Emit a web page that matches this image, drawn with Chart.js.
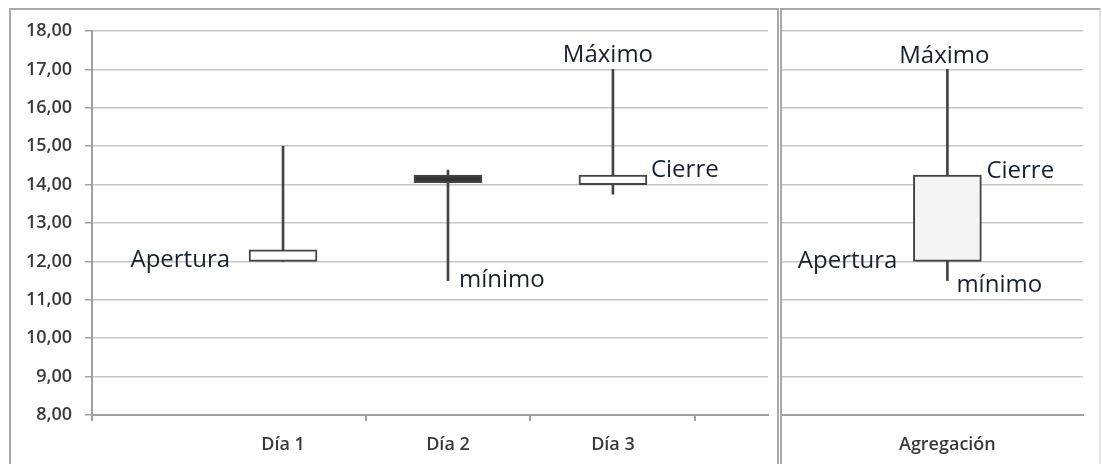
<!DOCTYPE html>
<html lang="es">
<head>
<meta charset="utf-8">
<title>Velas: Día 1 – Día 3 y Agregación</title>
<script src="https://cdn.jsdelivr.net/npm/chart.js@4.4.1/dist/chart.umd.min.js"></script>
<style>
  html, body { margin: 0; padding: 0; background: #ffffff; }
  body { width: 1102px; height: 464px; position: relative; overflow: hidden; }
  canvas { position: absolute; top: 0; }
  #dias { left: 0; }
  #agregado { left: 782px; }
  .frame { position: absolute; top: 8px; height: 470px; box-sizing: border-box;
           border-top: 2px solid #a9a9a9; border-left: 2px solid #a9a9a9; border-right: 2px solid #a9a9a9;
           pointer-events: none; }
  #frameLeft { left: 9px; width: 770px; }
  #frameRight { left: 780px; width: 321px; border-right-color: #e4e4e4; }
</style>
</head>
<body>
<canvas id="dias" width="777" height="464"></canvas>
<canvas id="agregado" width="320" height="464"></canvas>
<div class="frame" id="frameLeft"></div>
<div class="frame" id="frameRight"></div>
<script>
// Daily candles
const categories = ['Día 1', 'Día 2', 'Día 3'];
const openValues  = [12.00, 14.25, 14.00];
const highValues  = [15.00, 14.38, 17.00];
const lowValues   = [12.00, 11.50, 13.75];
const closeValues = [12.30, 14.05, 14.25];

// Aggregated candle over the three days
const aggCategories = ['Agregación'];
const aggOpen  = [12.00];
const aggHigh  = [17.00];
const aggLow   = [11.50];
const aggClose = [14.25];

// Value axis
const yTickValues = [8, 9, 10, 11, 12, 13, 14, 15, 16, 17, 18];

const INK = '#3a3a3a';
const GRID = '#c6c6c6';
const AXIS = '#a0a0a0';
const NOTE_FONT = '400 24px "Open Sans"';
const NOTE_COLOR = '#18222e';
const BOX_W = 68;

function formatComma(v) { return v.toFixed(2).replace('.', ','); }

function candleDatasets(labels, open, high, low, close, risingFill, fallingFill) {
  const pos = labels.map((_, i) => i + 1);
  return [
    {
      label: 'mecha',
      data: pos.map((x, i) => ({ x: x, y: [low[i], high[i]] })),
      backgroundColor: '#444444',
      borderWidth: 0,
      barThickness: 2,
      grouped: false,
      order: 2
    },
    {
      label: 'cuerpo',
      data: pos.map((x, i) => ({ x: x, y: [open[i], close[i]] })),
      backgroundColor: pos.map((_, i) => close[i] >= open[i] ? risingFill : fallingFill),
      borderColor: '#444444',
      borderWidth: 2,
      borderSkipped: false,
      barThickness: BOX_W,
      grouped: false,
      order: 1
    }
  ];
}

// Text callouts tied to a candle value (anchor: 'left' | 'center' | 'right' of the body)
function notesPlugin(notes, series) {
  return {
    id: 'notes',
    afterDatasetsDraw(chart) {
      const { ctx, scales } = chart;
      ctx.save();
      ctx.font = NOTE_FONT;
      ctx.fillStyle = NOTE_COLOR;
      ctx.textBaseline = 'alphabetic';
      notes.forEach(n => {
        const cx = scales.x.getPixelForValue(n.index + 1);
        const ax = n.anchor === 'left' ? cx - BOX_W / 2 : n.anchor === 'right' ? cx + BOX_W / 2 : cx;
        const y = scales.y.getPixelForValue(series[n.field][n.index]);
        ctx.textAlign = n.align;
        ctx.fillText(n.text, ax + n.dx, y + n.dy);
      });
      ctx.restore();
    }
  };
}

function baseOptions(opts) {
  return {
    responsive: false,
    animation: false,
    events: [],
    layout: { padding: opts.padding },
    plugins: { legend: { display: false }, tooltip: { enabled: false } },
    scales: {
      x: {
        type: 'linear',
        offset: false,
        min: opts.xMin,
        max: opts.xMax,
        afterBuildTicks(scale) { scale.ticks = opts.xTicks.map(v => ({ value: v })); },
        afterFit(scale) { scale.height = 49; },
        ticks: {
          autoSkip: false,
          maxRotation: 0,
          padding: 13,
          color: INK,
          font: { family: '"Open Sans"', size: 18, weight: '600' },
          callback(v) { return Number.isInteger(v) ? opts.labels[v - 1] || '' : ''; }
        },
        grid: {
          offset: false,
          drawOnChartArea: false,
          tickLength: 6,
          lineWidth: 2,
          tickColor(c) {
            const t = c && c.tick;
            return opts.showXTicks && t && !Number.isInteger(t.value) ? AXIS : 'rgba(0,0,0,0)';
          }
        },
        border: { display: true, color: AXIS, width: 2 }
      },
      y: {
        min: 8,
        max: 18,
        afterBuildTicks(scale) { scale.ticks = yTickValues.map(v => ({ value: v })); },
        afterFit(scale) { scale.width = opts.yWidth; },
        ticks: {
          display: opts.showYLabels,
          padding: 13,
          color: INK,
          font: { family: '"Open Sans"', size: 18, weight: '600' },
          callback(v) { return formatComma(v); }
        },
        grid: {
          color: GRID,
          lineWidth: 1.5,
          drawTicks: opts.showYLabels,
          tickLength: 7,
          tickColor: AXIS
        },
        border: { display: opts.showYLabels, color: AXIS, width: 2 }
      }
    }
  };
}

const daySeries = { open: openValues, high: highValues, low: lowValues, close: closeValues };
new Chart(document.getElementById('dias'), {
  type: 'bar',
  data: { datasets: candleDatasets(categories, openValues, highValues, lowValues, closeValues, '#ffffff', '#333333') },
  options: baseOptions({
    padding: { top: 31, right: 9, bottom: 0, left: 0 },
    xMin: -0.158, xMax: 3.94,
    xTicks: [-0.158, 1, 1.5, 2, 2.5, 3, 3.5],
    labels: categories,
    showXTicks: true,
    showYLabels: true,
    yWidth: 92
  }),
  plugins: [notesPlugin([
    { text: 'Apertura', index: 0, field: 'open',  anchor: 'left',   align: 'right',  dx: -19, dy: 6 },
    { text: 'mínimo',   index: 1, field: 'low',   anchor: 'center', align: 'left',   dx: 11,  dy: 6 },
    { text: 'Máximo',   index: 2, field: 'high',  anchor: 'center', align: 'center', dx: -5,  dy: -7 },
    { text: 'Cierre',   index: 2, field: 'close', anchor: 'right',  align: 'left',   dx: 4,   dy: 2 }
  ], daySeries)]
});

const aggSeries = { open: aggOpen, high: aggHigh, low: aggLow, close: aggClose };
new Chart(document.getElementById('agregado'), {
  type: 'bar',
  data: { datasets: candleDatasets(aggCategories, aggOpen, aggHigh, aggLow, aggClose, '#f4f4f4', '#333333') },
  options: baseOptions({
    padding: { top: 31, right: 19, bottom: 0, left: 0 },
    xMin: 0, xMax: 1.82,
    xTicks: [1],
    labels: aggCategories,
    showXTicks: false,
    showYLabels: false,
    yWidth: 0
  }),
  plugins: [notesPlugin([
    { text: 'Máximo',   index: 0, field: 'high',  anchor: 'center', align: 'center', dx: -3,  dy: -6 },
    { text: 'Cierre',   index: 0, field: 'close', anchor: 'right',  align: 'left',   dx: 5,   dy: 3 },
    { text: 'Apertura', index: 0, field: 'open',  anchor: 'left',   align: 'right',  dx: -16, dy: 7 },
    { text: 'mínimo',   index: 0, field: 'low',   anchor: 'center', align: 'left',   dx: 9,   dy: 11 }
  ], aggSeries)]
});
</script>
</body>
</html>
